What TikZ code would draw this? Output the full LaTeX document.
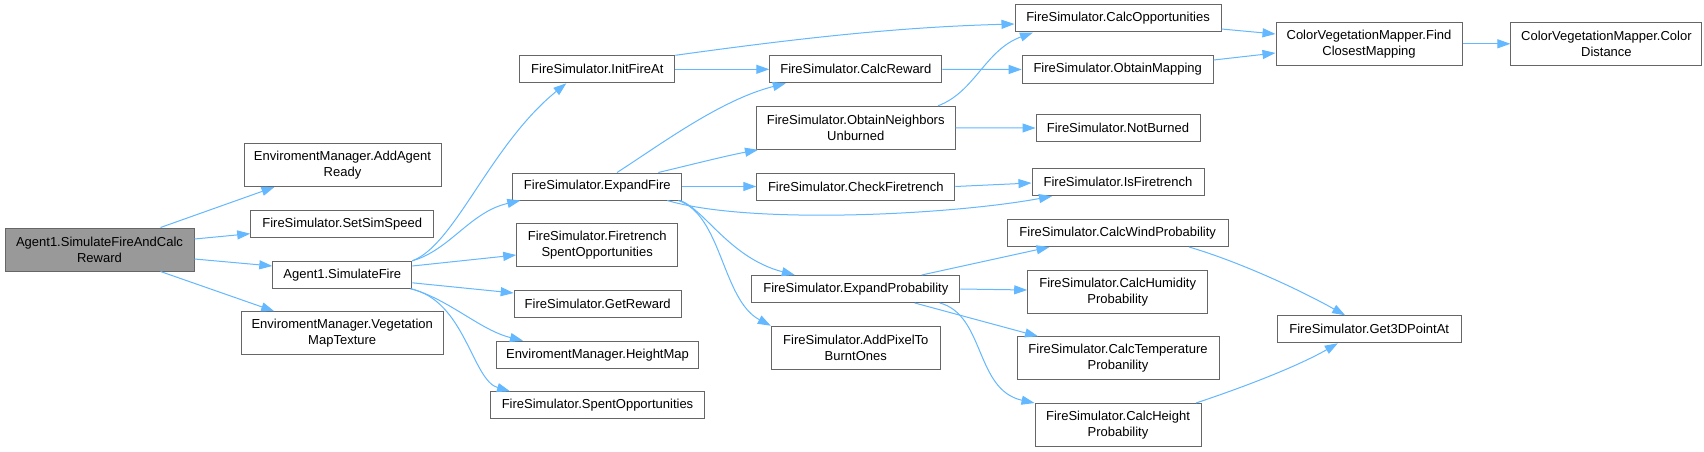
\documentclass[tikz,border=0pt]{standalone}
\usepackage{fontspec}
\setmainfont{Liberation Sans}
\usetikzlibrary{arrows.meta}
\definecolor{edgeblue}{HTML}{63B8FF}
\definecolor{nodeborder}{HTML}{666666}
\definecolor{rootfill}{HTML}{999999}
\begin{document}
\begin{tikzpicture}[x=1pt,y=-1pt,
 nd/.style={draw=nodeborder, line width=1pt, fill=white, inner sep=0pt, align=center, font=\fontsize{13}{16}\selectfont, text=black},
 ed/.style={draw=edgeblue, line width=1pt, -{Triangle[length=13pt,width=9pt]}}]
\fill[white] (0,0) rectangle (1704,452);
\useasboundingbox (0,0) rectangle (1704,452);
% column 0
\node[nd, fill=rootfill, minimum width=189pt, minimum height=43pt] (root) at (99.5,249.5) {Agent1.SimulateFireAndCalc\\Reward};
% column 1
\node[nd, minimum width=197pt, minimum height=43pt] (aar) at (342.5,165) {EnviromentManager.AddAgent\\Ready};
\node[nd, minimum width=183pt, minimum height=27pt] (sss) at (342.2,223.7) {FireSimulator.SetSimSpeed};
\node[nd, minimum width=139pt, minimum height=27pt] (sf) at (342.3,274.8) {Agent1.SimulateFire};
\node[nd, minimum width=202pt, minimum height=43pt] (vmt) at (342.2,333.2) {EnviromentManager.Vegetation\\MapTexture};
% column 2
\node[nd, minimum width=155pt, minimum height=27pt] (ifa) at (597.3,69.3) {FireSimulator.InitFireAt};
\node[nd, minimum width=169pt, minimum height=27pt] (ef) at (597.3,186.5) {FireSimulator.ExpandFire};
\node[nd, minimum width=161pt, minimum height=43pt] (ftso) at (597.2,245) {FireSimulator.Firetrench\\SpentOpportunities};
\node[nd, minimum width=167pt, minimum height=27pt] (gr) at (597.7,303.8) {FireSimulator.GetReward};
\node[nd, minimum width=202pt, minimum height=27pt] (hm) at (597.5,354.7) {EnviromentManager.HeightMap};
\node[nd, minimum width=214pt, minimum height=27pt] (so) at (597.5,405.3) {FireSimulator.SpentOpportunities};
% column 3
\node[nd, minimum width=172pt, minimum height=27pt] (cr) at (855.8,69.3) {FireSimulator.CalcReward};
\node[nd, minimum width=199pt, minimum height=43pt] (onu) at (855.7,127.8) {FireSimulator.ObtainNeighbors\\Unburned};
\node[nd, minimum width=198pt, minimum height=27pt] (cft) at (855.8,186.5) {FireSimulator.CheckFiretrench};
\node[nd, minimum width=208pt, minimum height=27pt] (ep) at (855.8,289) {FireSimulator.ExpandProbability};
\node[nd, minimum width=169pt, minimum height=43pt] (apbo) at (855.8,347.7) {FireSimulator.AddPixelTo\\BurntOnes};
% column 4
\node[nd, minimum width=206pt, minimum height=27pt] (co) at (1118,18.5) {FireSimulator.CalcOpportunities};
\node[nd, minimum width=191pt, minimum height=27pt] (om) at (1117.7,69.5) {FireSimulator.ObtainMapping};
\node[nd, minimum width=164pt, minimum height=27pt] (nb) at (1118,128) {FireSimulator.NotBurned};
\node[nd, minimum width=172pt, minimum height=27pt] (ift) at (1118,182.2) {FireSimulator.IsFiretrench};
\node[nd, minimum width=221pt, minimum height=27pt] (cwp) at (1117.7,233) {FireSimulator.CalcWindProbability};
\node[nd, minimum width=180pt, minimum height=43pt] (chp) at (1117.7,292) {FireSimulator.CalcHumidity\\Probability};
\node[nd, minimum width=202pt, minimum height=43pt] (ctp) at (1118,358.3) {FireSimulator.CalcTemperature\\Probanility};
\node[nd, minimum width=166pt, minimum height=43pt] (chtp) at (1118,425) {FireSimulator.CalcHeight\\Probability};
% column 5/6
\node[nd, minimum width=186pt, minimum height=43pt] (fcm) at (1369,43.8) {ColorVegetationMapper.Find\\ClosestMapping};
\node[nd, minimum width=191pt, minimum height=43pt] (cd) at (1606.4,43.8) {ColorVegetationMapper.Color\\Distance};
\node[nd, minimum width=184pt, minimum height=27pt] (g3d) at (1369.2,329.3) {FireSimulator.Get3DPointAt};
% edges from root
\draw[ed] ([xshift=61pt]root.north) -- ([xshift=-68pt]aar.south);
\draw[ed] ([yshift=10.5pt]root.east) -- ([yshift=-10pt]sss.west);
\draw[ed] ([yshift=-9.5pt]root.east) -- ([yshift=8.8pt]sf.west);
\draw[ed] ([xshift=61pt]root.south) -- ([xshift=-68pt]vmt.north);
% edges from SimulateFire
\draw[ed] (sf.north east) .. controls (455,245) and (490,145) .. ([xshift=-31pt]ifa.south);
\draw[ed] (sf.north east) .. controls (450,250) and (470,212) .. ([xshift=-77pt]ef.south);
\draw[ed] ([yshift=8.8pt]sf.east) -- ([yshift=-10pt]ftso.west);
\draw[ed] ([yshift=-8pt]sf.east) -- ([yshift=10.8pt]gr.west);
\draw[ed] ([xshift=-1pt]sf.south east) .. controls (450,300) and (480,330) .. ([xshift=-74.5pt]hm.north);
\draw[ed] ([xshift=-2pt]sf.south east) .. controls (465,300) and (472,380) .. ([xshift=-87.5pt]so.north);
% edges from InitFireAt
\draw[ed] (ifa.north east) .. controls (800,38) and (900,27) .. ([yshift=-5.5pt]co.west);
\draw[ed] (ifa.east) -- (cr.west);
% edges from ExpandFire
\draw[ed] ([xshift=19.7pt]ef.north) .. controls (660,145) and (720,100) .. ([xshift=-70pt]cr.south);
\draw[ed] ([xshift=61pt]ef.north) .. controls (690,165) and (725,156) .. ([xshift=-97.7pt]onu.south);
\draw[ed] (ef.east) -- (cft.west);
\draw[ed] ([xshift=70pt]ef.south) .. controls (750,225) and (950,215) .. ([xshift=-66pt]ift.south);
\draw[ed] ([xshift=83pt]ef.south) .. controls (705,210) and (730,258) .. ([xshift=-61pt]ep.north);
\draw[ed] ([xshift=81pt]ef.south) .. controls (722,215) and (722,300) .. ([xshift=-85pt]apbo.north);
% column 3 edges
\draw[ed] (cr.east) -- (om.west);
\draw[ed] ([xshift=82.3pt]onu.north) .. controls (975,92) and (985,50) .. ([xshift=-85pt]co.south);
\draw[ed] (onu.east) -- (nb.west);
\draw[ed] (cft.east) -- ([yshift=-0.8pt]ift.west);
\draw[ed] ([xshift=65.9pt]ep.north) -- ([xshift=-68.2pt]cwp.south);
\draw[ed] (ep.east) -- ([yshift=2pt]chp.west);
\draw[ed] ([xshift=59pt]ep.south) -- ([xshift=-80pt]ctp.north);
\draw[ed] ([xshift=84pt]ep.south) .. controls (985,315) and (975,390) .. (chtp.north west);
% column 4 edges
\draw[ed] ([yshift=-10.5pt]co.east) -- ([yshift=9.8pt]fcm.west);
\draw[ed] ([yshift=9.5pt]om.east) -- ([yshift=-9.2pt]fcm.west);
\draw[ed] (fcm.east) -- (cd.west);
\draw[ed] ([xshift=71.3pt]cwp.south) .. controls (1240,262) and (1300,290) .. ([xshift=-24pt]g3d.north);
\draw[ed] ([xshift=78pt]chtp.north) .. controls (1250,385) and (1300,365) .. ([xshift=-31.4pt]g3d.south);
\end{tikzpicture}
\end{document}
